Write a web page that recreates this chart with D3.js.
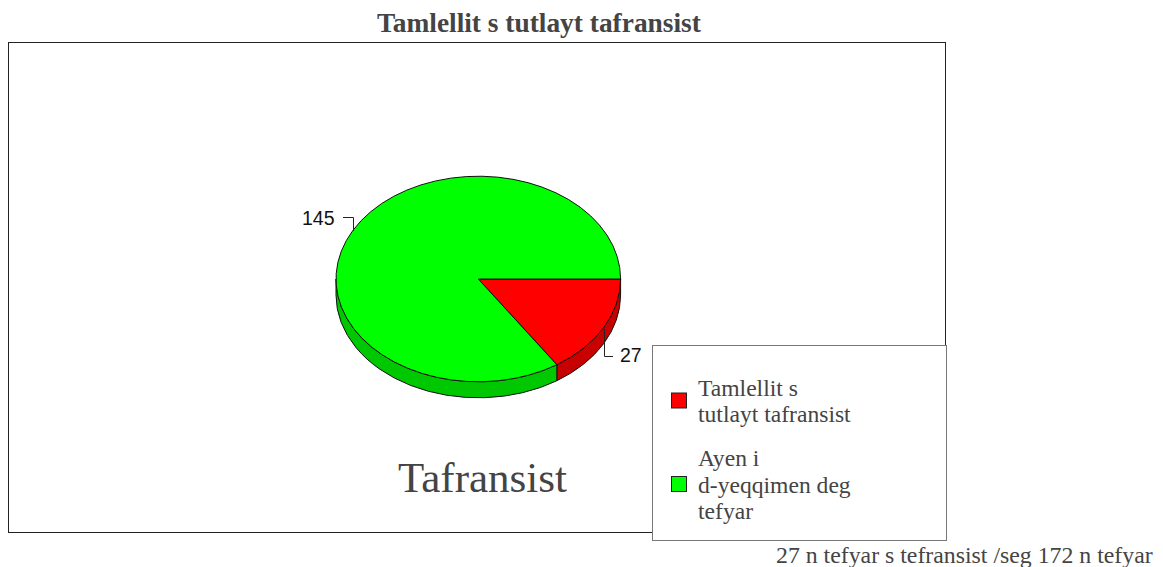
<!DOCTYPE html>
<html>
<head>
<meta charset="utf-8">
<script src="https://cdn.jsdelivr.net/npm/d3@7"></script>
<style>
  html, body { margin: 0; padding: 0; background: #fff; }
  svg { display: block; }
  text { font-family: "Liberation Serif", serif; fill: #444; }
</style>
</head>
<body>
<div id="chart"></div>
<script>
// data
const categories = ["Tamlellit s tutlayt tafransist", "Ayen i d-yeqqimen deg tefyar"];
const values = [27, 145];
const sliceColors = ["#ff0000", "#00ff00"];
const sideColors = ["#c80000", "#00c800"];
const legendLines = [["Tamlellit s", "tutlayt tafransist"], ["Ayen i", "d-yeqqimen deg", "tefyar"]];

const width = 1163, height = 567;
const cx = 478.3, cy = 279, rx = 142.3, ry = 102.8, depth = 16;

const svg = d3.select("#chart").append("svg")
    .attr("width", width)
    .attr("height", height);

// cadre du graphique
svg.append("rect")
    .attr("x", 8.5).attr("y", 42.5)
    .attr("width", 937).attr("height", 490)
    .attr("fill", "#fff")
    .attr("stroke", "#222");

svg.append("text")
    .attr("x", 377).attr("y", 32)
    .attr("font-weight", "bold")
    .attr("font-size", 27.4)
    .text(categories[0]);

// part de camembert, on commence a l'est et on tourne dans le sens horaire
const pie = d3.pie().sort(null).startAngle(Math.PI / 2).endAngle(Math.PI * 2.5);
const arcs = pie(values);
const arc = d3.arc().innerRadius(0).outerRadius(rx);

const px = a => cx + rx * Math.sin(a);
const py = a => cy - ry * Math.cos(a);

// bord visible : seulement la moitie basse de l'ellipse
function sidePath(d) {
    const a0 = d.startAngle;
    const a1 = Math.min(d.endAngle, Math.PI * 1.5);
    return `M${px(a0)},${py(a0)}`
        + `A${rx},${ry} 0 0 1 ${px(a1)},${py(a1)}`
        + `L${px(a1)},${py(a1) + depth}`
        + `A${rx},${ry} 0 0 0 ${px(a0)},${py(a0) + depth}Z`;
}

svg.selectAll(".side")
    .data(arcs)
    .join("path")
    .attr("class", "side")
    .attr("d", sidePath)
    .attr("fill", (d, i) => sideColors[i])
    .attr("stroke", "#111")
    .attr("stroke-width", 1);

svg.append("g")
    .attr("transform", `translate(${cx},${cy}) scale(1,${ry / rx})`)
    .selectAll("path")
    .data(arcs)
    .join("path")
    .attr("d", arc)
    .attr("fill", (d, i) => sliceColors[i])
    .attr("stroke", "#111")
    .attr("stroke-width", 1)
    .attr("vector-effect", "non-scaling-stroke");

// etiquettes avec leur trait
const labelPos = [
    { x: 620, y: 362, line: [[604.5, 329], [604.5, 356.5], [613, 356.5]] },
    { x: 302, y: 224.5, line: [[343, 217.5], [353.5, 217.5], [353.5, 231]] }
];
labelPos.forEach((p, i) => {
    svg.append("path")
        .attr("d", d3.line()(p.line))
        .attr("fill", "none")
        .attr("stroke", "#222");
    svg.append("text")
        .attr("x", p.x).attr("y", p.y)
        .attr("font-size", 19.5)
        .style("font-family", "'Liberation Sans', sans-serif")
        .style("fill", "#111")
        .text(values[i]);
});

svg.append("text")
    .attr("x", 398).attr("y", 492)
    .attr("font-size", 43)
    .text("Tafransist");

// legende
svg.append("rect")
    .attr("x", 652.5).attr("y", 345.5)
    .attr("width", 294).attr("height", 195)
    .attr("fill", "#fff")
    .attr("stroke", "#777");

const legendY = [400.5, 484];
const lineH = 26.7;
legendLines.forEach((lines, i) => {
    svg.append("rect")
        .attr("x", 671.5).attr("y", legendY[i] - 7.5)
        .attr("width", 15).attr("height", 15)
        .attr("fill", sliceColors[i])
        .attr("stroke", "#222");
    lines.forEach((l, j) => {
        svg.append("text")
            .attr("x", 698)
            .attr("y", legendY[i] + 8.5 + (j - (lines.length - 1) / 2) * lineH)
            .attr("font-size", 23.6)
            .text(l);
    });
});

svg.append("text")
    .attr("x", 776).attr("y", 562.5)
    .attr("font-size", 23.8)
    .text("27 n tefyar s tefransist /seg 172 n tefyar");
</script>
</body>
</html>
